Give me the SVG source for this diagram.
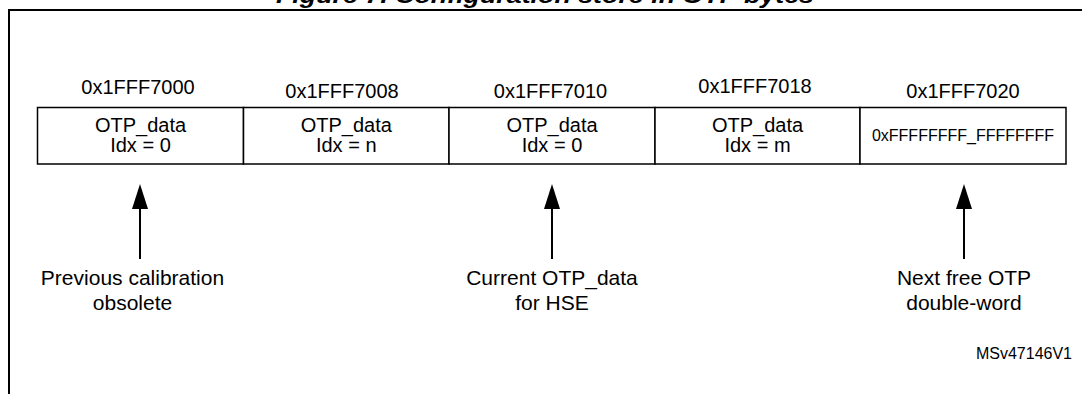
<svg xmlns="http://www.w3.org/2000/svg" width="1082" height="394" viewBox="0 0 1082 394">
<style>
text{font-family:"Liberation Sans",Arial,sans-serif;fill:#000;text-anchor:middle}
.addr{font-size:20px}
.cell{font-size:20px}
.lbl{font-size:21px}
.box{fill:#fff;stroke:#000;stroke-width:1.5}
.frame{fill:none;stroke:#000;stroke-width:2}
.arr{stroke:#000;stroke-width:2;fill:none}
.head{fill:#000}
</style>
<rect width="1082" height="394" fill="#fff"/>
<g id="title">
<text x="545" y="3" style="font-size:22px;font-weight:bold;font-style:italic" textLength="538" lengthAdjust="spacingAndGlyphs">Figure 7. Configuration store in OTP bytes</text>
</g>
<path class="frame" d="M9 394V10H1082"/>
<g id="addresses">
<text class="addr" x="138" y="94">0x1FFF7000</text>
<text class="addr" x="342" y="98">0x1FFF7008</text>
<text class="addr" x="550.5" y="98">0x1FFF7010</text>
<text class="addr" x="755" y="93">0x1FFF7018</text>
<text class="addr" x="963" y="98">0x1FFF7020</text>
</g>
<g id="cell1">
<rect class="box" x="37.5" y="107.5" width="206" height="56.5"/>
<text class="cell" x="140.5" y="131.5">OTP_data</text>
<text class="cell" x="140.5" y="151.5">Idx = 0</text>
</g>
<g id="cell2">
<rect class="box" x="243.5" y="107.5" width="205.5" height="56.5"/>
<text class="cell" x="346.25" y="131.5">OTP_data</text>
<text class="cell" x="346.25" y="151.5">Idx = n</text>
</g>
<g id="cell3">
<rect class="box" x="449" y="107.5" width="206" height="56.5"/>
<text class="cell" x="552" y="131.5">OTP_data</text>
<text class="cell" x="552" y="151.5">Idx = 0</text>
</g>
<g id="cell4">
<rect class="box" x="655" y="107.5" width="205" height="56.5"/>
<text class="cell" x="757.5" y="131.5">OTP_data</text>
<text class="cell" x="757.5" y="151.5">Idx = m</text>
</g>
<g id="cell5">
<rect class="box" x="860" y="107.5" width="206" height="56.5"/>
<text x="963" y="141" style="font-size:16px">0xFFFFFFFF_FFFFFFFF</text>
</g>
<g id="connectors">
<line class="arr" x1="140" y1="259" x2="140" y2="205"/>
<polygon class="head" points="140,184 132,209 148,209"/>
<line class="arr" x1="552" y1="259" x2="552" y2="205"/>
<polygon class="head" points="552,184 544,209 560,209"/>
<line class="arr" x1="964" y1="259" x2="964" y2="205"/>
<polygon class="head" points="964,184 956,209 972,209"/>
</g>
<g id="label1">
<text class="lbl" x="132.5" y="285">Previous calibration</text>
<text class="lbl" x="132.5" y="310">obsolete</text>
</g>
<g id="label2">
<text class="lbl" x="552" y="285">Current OTP_data</text>
<text class="lbl" x="552" y="310">for HSE</text>
</g>
<g id="label3">
<text class="lbl" x="964" y="285">Next free OTP</text>
<text class="lbl" x="964" y="310">double-word</text>
</g>
<text x="1072" y="359" style="font-size:16px;text-anchor:end">MSv47146V1</text>
</svg>
